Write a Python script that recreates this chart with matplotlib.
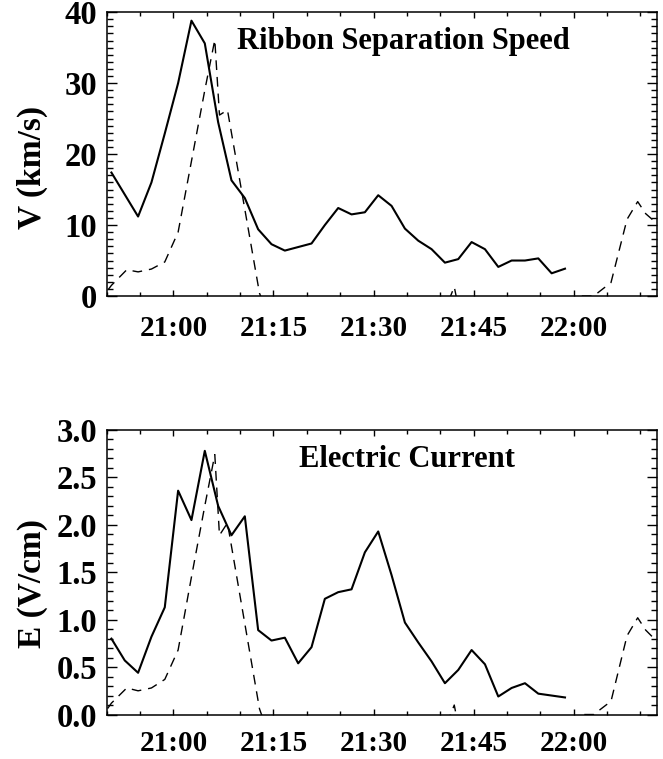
import matplotlib
matplotlib.use("Agg")
import matplotlib.pyplot as plt
from matplotlib.ticker import MultipleLocator, FuncFormatter

## data (minutes after 20:00)
obs_times = [50.7, 52.7, 54.7, 56.7, 58.7, 60.7, 62.7, 64.7, 66.7, 68.7,
             70.7, 72.7, 74.7, 76.7, 78.7, 80.7, 82.7, 84.7, 86.7, 88.7,
             90.7, 92.7, 94.7, 96.7, 98.7, 100.7, 102.7, 104.7, 106.7, 108.7,
             110.7, 112.7, 114.7, 116.7, 118.7]
speed = [17.4, 14.3, 11.2, 16.0, 22.9, 30.0, 38.8, 35.6, 24.5, 16.3,
         13.8, 9.4, 7.3, 6.4, 6.9, 7.4, 10.0, 12.4, 11.5, 11.8,
         14.2, 12.7, 9.5, 7.8, 6.6, 4.7, 5.2, 7.6, 6.6, 4.1,
         5.0, 5.0, 5.3, 3.2, 3.85]
efield = [0.80, 0.57, 0.44, 0.82, 1.13, 2.36, 2.05, 2.78, 2.20, 1.89,
          2.09, 0.89, 0.78, 0.81, 0.54, 0.71, 1.22, 1.29, 1.32, 1.71,
          1.93, 1.47, 0.97, 0.76, 0.56, 0.33, 0.47, 0.68, 0.53, 0.19,
          0.28, 0.33, 0.22, 0.20, 0.18]

# dashed curves (drops below zero are clipped by the axes)
ref_times = [48.7, 50.7, 53.0, 54.7, 56.7, 58.7, 60.7, 62.7, 64.7, 66.2,
             66.9, 68.1, 72.9, 74.7, 78.7, 84.7, 90.7, 96.7, 100.7, 102.1,
             102.7, 106.7, 112.7, 118.7, 121.0, 123.0, 125.6, 128.0, 129.6, 130.8,
             132.5, 134.0]
ref_speed = [-1.0, 1.5, 3.7, 3.4, 3.8, 4.8, 9.0, 19.0, 29.0, 36.1,
             25.5, 26.2, 0.4, -4.0, -10, -12, -9, -6, -2.0, 1.3,
             -1.5, -6, -8, -3, 0.0, 0.0, 1.9, 10.8, 13.3, 11.6,
             10.2, 9.5]
ref_efield = [-0.08, 0.12, 0.28, 0.25, 0.28, 0.37, 0.68, 1.45, 2.2, 2.74,
              1.89, 2.02, 0.06, -0.3, -0.8, -0.9, -0.7, -0.45, -0.15, 0.10,
              -0.12, -0.45, -0.6, -0.22, 0.0, 0.0, 0.14, 0.83, 1.02, 0.89,
              0.77, 0.72]

XMIN, XMAX = 50.0, 132.5
FONT = "Liberation Serif"


def hhmm(x, pos):
    m = int(round(x))
    return "%d:%02d" % (20 + m // 60, m % 60)


def setup(ax, ymax, ymajor, yminor, yfmt, title, tx, xpad):
    ax.set_xlim(XMIN, XMAX)
    ax.set_ylim(0, ymax)
    ax.xaxis.set_major_locator(MultipleLocator(15))
    ax.xaxis.set_minor_locator(MultipleLocator(5))
    ax.xaxis.set_major_formatter(FuncFormatter(hhmm))
    ax.yaxis.set_major_locator(MultipleLocator(ymajor))
    ax.yaxis.set_minor_locator(MultipleLocator(yminor))
    ax.yaxis.set_major_formatter(FuncFormatter(lambda v, p: yfmt % v))
    ax.tick_params(axis="both", which="both", direction="in",
                   top=True, right=True, width=1.0, colors="black")
    ax.tick_params(axis="x", which="major", length=4.5, pad=xpad)
    ax.tick_params(axis="x", which="minor", length=3)
    ax.tick_params(axis="y", which="major", length=7.5, pad=7)
    ax.tick_params(axis="y", which="minor", length=4)
    for lab in ax.get_xticklabels():
        lab.set_fontfamily(FONT)
        lab.set_fontweight("bold")
        lab.set_fontsize(21)
    for lab in ax.get_yticklabels():
        lab.set_fontfamily(FONT)
        lab.set_fontweight("bold")
        lab.set_fontsize(23.5)
    for sp in ax.spines.values():
        sp.set_linewidth(1.1)
    ax.text(tx, 0.895, title, transform=ax.transAxes, ha="center", va="center",
            fontsize=22, fontweight="bold", family=FONT)


fig = plt.figure(figsize=(6.63, 7.59), dpi=100)
ax1 = fig.add_axes([0.161, 0.610, 0.830, 0.374])
ax2 = fig.add_axes([0.161, 0.0586, 0.830, 0.3749])

ax1.plot(obs_times, speed, color="black", lw=1.5)
ax1.plot(ref_times, ref_speed, color="black", lw=1.0, linestyle=(0, (7, 5)))
setup(ax1, 40, 10, 1, "%d", "Ribbon Separation Speed", 0.539, 14)

ax2.plot(obs_times, efield, color="black", lw=1.5)
ax2.plot(ref_times, ref_efield, color="black", lw=1.0, linestyle=(0, (7, 5)))
setup(ax2, 3.0, 0.5, 0.1, "%.1f", "Electric Current", 0.545, 11.5)

fig.text(32 / 663, 1 - 167 / 759, "V (km/s)", rotation=90, ha="center", va="center",
         fontsize=24, fontweight="bold", family=FONT)
fig.text(32 / 663, 1 - 584 / 759, "E (V/cm)", rotation=90, ha="center", va="center",
         fontsize=24, fontweight="bold", family=FONT)

fig.savefig("out.png", dpi=100)
